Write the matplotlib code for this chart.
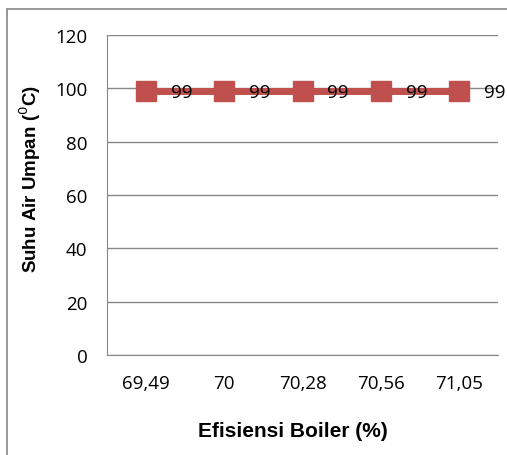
import matplotlib.pyplot as plt
from matplotlib.patches import Rectangle

# data
efisiensi = ["69,49", "70", "70,28", "70,56", "71,05"]
suhu = [99, 99, 99, 99, 99]

fig = plt.figure(figsize=(5.07, 4.56), dpi=100)
W, H = 507, 456

# outer chart frame (cut at right and bottom)
fig.patches.append(Rectangle((6.5 / W, -0.01), 1.0, 1 - 9.5 / H + 0.01,
                             transform=fig.transFigure, fill=False,
                             edgecolor="#868686", linewidth=1.2))

ax = fig.add_axes([107 / W, 1 - 356 / H, 391 / W, 320 / H])
x = range(len(efisiensi))
ax.plot(x, suhu, color="#C0504D", linewidth=5, marker="s", markersize=15,
        markerfacecolor="#C0504D", markeredgecolor="#C0504D", zorder=3)
for i, v in zip(x, suhu):
    ax.annotate(str(v), (i, v), xytext=(18, -1), textcoords="offset points",
                ha="left", va="center", fontsize=13.5, family="Open Sans")

ax.set_xlim(-0.5, len(efisiensi) - 0.5)
ax.set_ylim(0, 120)
ax.set_yticks(range(0, 121, 20))
ax.set_xticks(list(x))
ax.set_xticklabels(efisiensi)
ax.grid(axis="y", color="#878787", linewidth=1)
ax.set_axisbelow(True)
for s in ["top", "right"]:
    ax.spines[s].set_visible(False)
for s in ["left", "bottom"]:
    ax.spines[s].set_color("#878787")
ax.tick_params(length=0, labelsize=13.5)
for lab in ax.get_xticklabels() + ax.get_yticklabels():
    lab.set_family("Open Sans")
ax.tick_params(axis="x", pad=14)
ax.tick_params(axis="y", pad=14)

ax.set_xlabel("Efisiensi Boiler (%)", fontsize=15, fontweight="bold",
              family="Liberation Sans", va="center")
ax.xaxis.set_label_coords(0.476, -0.2375)
ax.set_ylabel("Suhu Air Umpan ($^0$C)", fontsize=13.5, fontweight="bold",
              family="Liberation Sans", va="center")
ax.yaxis.set_label_coords(-0.197, 0.553)

fig.savefig("out.png", dpi=100)
